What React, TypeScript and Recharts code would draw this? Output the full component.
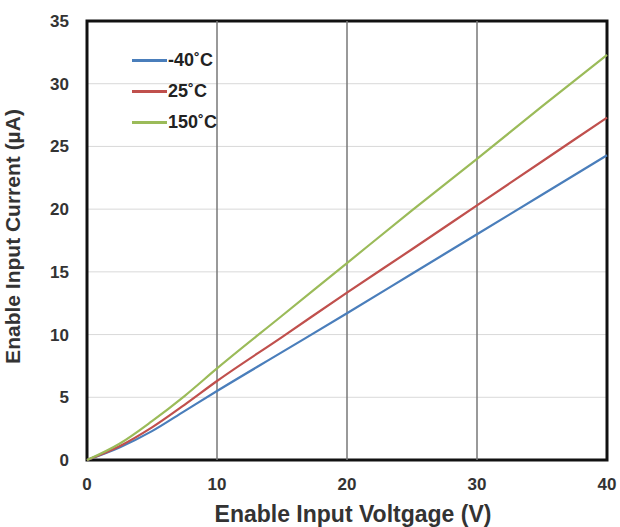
import React from 'react';
import { LineChart, Line, XAxis, YAxis, CartesianGrid, ReferenceLine, ReferenceArea } from 'recharts';

const voltage = [0, 2.5, 5, 7.5, 10, 15, 20, 25, 30, 35, 40];
const currentM40 = [0, 1.0, 2.3, 3.9, 5.5, 8.6, 11.7, 14.85, 18.0, 21.15, 24.3];
const current25 = [0, 1.1, 2.6, 4.4, 6.3, 9.8, 13.35, 16.8, 20.3, 23.8, 27.3];
const current150 = [0, 1.3, 3.1, 5.1, 7.3, 11.5, 15.7, 19.9, 24.0, 28.2, 32.3];
const xTicks = [0, 10, 20, 30, 40];
const yTicks = [0, 5, 10, 15, 20, 25, 30, 35];
const seriesNames = ['-40˚C', '25˚C', '150˚C'];
const seriesColors = ['#4a7ebb', '#c0504d', '#9bbb59'];

const data = voltage.map((v, i) => ({
  v,
  m40: currentM40[i],
  t25: current25[i],
  t150: current150[i],
}));

const font = 'Arial, "Liberation Sans", sans-serif';

// legend drawn over the plot, top-left corner
function LegendBox() {
  return (
    <div style={{ position: 'absolute', left: 132, top: 45, fontFamily: font, fontWeight: 'bold', fontSize: 18, color: '#222' }}>
      {seriesNames.map((n, i) => (
        <div key={n} style={{ display: 'flex', alignItems: 'center', height: 31 }}>
          <div style={{ width: 35, height: 3, background: seriesColors[i] }} />
          <span style={{ marginLeft: 1 }}>{n}</span>
        </div>
      ))}
    </div>
  );
}

export default function App() {
  return (
    <div style={{ position: 'absolute', left: 0, top: 0, width: 620, height: 527, background: '#fff' }}>
      <LineChart width={620} height={527} data={data} margin={{ top: 21, right: 13, left: 0, bottom: 0 }}>
        <CartesianGrid vertical={false} stroke="#d9d9d9" />
        {xTicks.slice(1, -1).map((t) => (
          <ReferenceLine key={t} x={t} stroke="#777" strokeWidth={1.5} />
        ))}
        <XAxis
          dataKey="v"
          type="number"
          domain={[0, 40]}
          ticks={xTicks}
          tickLine={false}
          axisLine={false}
          tickMargin={12}
          height={67}
          tick={{ fontFamily: font, fontWeight: 'bold', fontSize: 17, fill: '#333' }}
          label={{ value: 'Enable Input Voltgage (V)', position: 'insideBottom', offset: 5, dx: 6, style: { fontFamily: font, fontWeight: 'bold', fontSize: 23, fill: '#333' } }}
        />
        <YAxis
          type="number"
          domain={[0, 35]}
          ticks={yTicks}
          tickLine={false}
          axisLine={false}
          tickMargin={12}
          width={87}
          tick={{ fontFamily: font, fontWeight: 'bold', fontSize: 17, fill: '#333' }}
          label={{ value: 'Enable Input Current (µA)', angle: -90, position: 'insideLeft', offset: 13, dy: -4, style: { textAnchor: 'middle', fontFamily: font, fontWeight: 'bold', fontSize: 21, fill: '#333' } }}
        />
        <ReferenceArea x1={0} x2={40} y1={0} y2={35} fill="none" stroke="#111" strokeWidth={3} ifOverflow="visible" />
        <Line type="monotone" dataKey="m40" name={seriesNames[0]} stroke={seriesColors[0]} strokeWidth={2.2} dot={false} isAnimationActive={false} />
        <Line type="monotone" dataKey="t25" name={seriesNames[1]} stroke={seriesColors[1]} strokeWidth={2.2} dot={false} isAnimationActive={false} />
        <Line type="monotone" dataKey="t150" name={seriesNames[2]} stroke={seriesColors[2]} strokeWidth={2.2} dot={false} isAnimationActive={false} />
      </LineChart>
      <LegendBox />
    </div>
  );
}
